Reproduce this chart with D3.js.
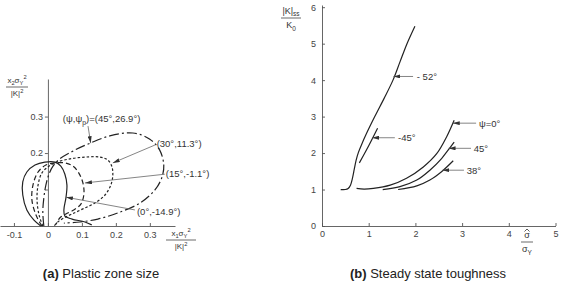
<!DOCTYPE html>
<html>
<head>
<meta charset="utf-8">
<script src="https://cdn.jsdelivr.net/npm/d3@7"></script>
<style>
  body { margin: 0; background: #fff; }
  svg text { font-family: "Liberation Sans", Arial, sans-serif; fill: #333; }
  .tick text { font-size: 9px; fill: #444; }
  .domain, .tick line { stroke: #555; stroke-width: 0.9; }
  .zone, .curve { fill: none; stroke: #222; stroke-width: 1.2; }
  .leader { stroke: #666; stroke-width: 0.8; fill: none; }
  .note { font-size: 9.5px; }
  .caption { font-size: 13px; fill: #222; }
</style>
</head>
<body>
<svg id="fig" width="563" height="284"></svg>
<script>
// ---- (a) plastic zone size: zone outlines, [x1 s^2/K^2, x2 s^2/K^2]
var zone0 = [[-0.021,0],[-0.041,0.016],[-0.062,0.044],[-0.074,0.085],[-0.074,0.121],[-0.062,0.148],
  [-0.038,0.167],[-0.009,0.175],[0.021,0.175],[0.038,0.164],[0.05,0.142],[0.056,0.112],[0.053,0.077],
  [0.047,0.044],[0.05,0.027],[0.071,0.019],[0.109,0.011],[0.129,0.003]];
var zone15 = [[-0.018,0],[-0.035,0.03],[-0.047,0.071],[-0.044,0.112],[-0.029,0.148],[-0.006,0.167],
  [0.021,0.173],[0.05,0.173],[0.074,0.164],[0.091,0.145],[0.103,0.118],[0.106,0.088],[0.097,0.06],
  [0.076,0.044],[0.053,0.033],[0.035,0.022],[0.024,0.005]];
var zone30 = [[-0.015,0],[-0.026,0.03],[-0.032,0.071],[-0.029,0.112],[-0.018,0.145],[0.003,0.164],
  [0.026,0.175],[0.065,0.184],[0.112,0.189],[0.153,0.189],[0.176,0.181],[0.188,0.164],[0.191,0.14],
  [0.185,0.112],[0.168,0.085],[0.138,0.063],[0.103,0.047],[0.071,0.033],[0.047,0.022],[0.029,0.011],[0.018,0]];
var zone45 = [[-0.012,0],[-0.015,0.038],[-0.012,0.077],[-0.006,0.112],[0.003,0.142],[0.015,0.164],
  [0.035,0.184],[0.079,0.208],[0.124,0.227],[0.182,0.247],[0.25,0.255],[0.3,0.238],[0.329,0.208],
  [0.341,0.167],[0.335,0.132],[0.315,0.099],[0.271,0.063],[0.206,0.036],[0.147,0.019],[0.094,0.011],[0.047,0.008]];
var zoneTicksX = [-0.1, 0, 0.1, 0.2, 0.3];
var zoneTicksY = [0.1, 0.2, 0.3];

// ---- (b) steady state toughness, [sigma_hat/sigma_Y, |K|ss/K0]
var tough52 = [[0.4,1.0],[0.5,1.0],[0.56,1.03],[0.61,1.12],[0.65,1.3],[0.69,1.55],[0.73,1.8],[0.78,2.02],
  [0.86,2.27],[0.94,2.5],[1.13,3.0],[1.33,3.5],[1.52,4.0],[1.67,4.5],[1.82,5.0],[1.99,5.48]];
var tough45n = [[0.8,1.73],[1.0,2.2],[1.19,2.68]];
var tough0 = [[0.74,1.03],[0.9,1.01],[1.1,1.03],[1.46,1.12],[1.81,1.31],[2.17,1.62],[2.46,1.99],[2.67,2.45],[2.83,2.9]];
var tough45 = [[1.3,1.0],[1.67,1.08],[2.03,1.26],[2.31,1.53],[2.56,1.85],[2.73,2.13],[2.83,2.3]];
var tough38 = [[1.63,1.0],[2.03,1.1],[2.31,1.26],[2.56,1.49],[2.81,1.79]];
var toughTicksX = [0, 1, 2, 3, 4, 5];
var toughTicksY = [0, 1, 2, 3, 4, 5, 6];

// annotations: anchor on curve, leader start, label start (data units)
var zoneNotes = [
  { parts: [["(ψ,ψ"], ["p", "sub"], [")=(45°,26.9°)"]], at: [0.126, 0.227], from: [0.118, 0.274], label: [0.044, 0.284] },
  { parts: [["(30°,11.3°)"]], at: [0.191, 0.173], from: [0.315, 0.222], label: [0.32, 0.216] },
  { parts: [["(15°,-1.1°)"]], at: [0.109, 0.118], from: [0.344, 0.142], label: [0.347, 0.133] },
  { parts: [["(0°,-14.9°)"]], at: [0.053, 0.079], from: [0.256, 0.044], label: [0.262, 0.029] }
];
var toughNotes = [
  { parts: [["- 52°"]], at: [1.53, 4.1], from: [1.95, 4.1], label: [2.03, 4.0] },
  { parts: [["-45°"]], at: [1.07, 2.42], from: [1.56, 2.42], label: [1.63, 2.32] },
  { parts: [["ψ=0°"]], at: [2.8, 2.82], from: [3.3, 2.82], label: [3.36, 2.72] },
  { parts: [["45°"]], at: [2.71, 2.13], from: [3.19, 2.13], label: [3.25, 2.03] },
  { parts: [["38°"]], at: [2.58, 1.53], from: [3.04, 1.53], label: [3.1, 1.43] }
];

var svg = d3.select("#fig");

svg.append("defs").append("marker")
  .attr("id", "arr")
  .attr("viewBox", "0 0 7 4")
  .attr("refX", 7).attr("refY", 2)
  .attr("markerUnits", "userSpaceOnUse")
  .attr("markerWidth", 7).attr("markerHeight", 4)
  .attr("orient", "auto")
  .append("path").attr("d", "M0,0L7,2L0,4Z").attr("fill", "#333");

// text with sub/superscripts; parts = [text, "sub"|"sup"]
function rich(t, parts, size) {
  var cur = 0;
  parts.forEach(function (p) {
    var off = p[1] === "sub" ? 0.3 : p[1] === "sup" ? -0.4 : 0;
    t.append("tspan")
      .attr("dy", ((off - cur) * size).toFixed(2))
      .style("font-size", (off ? size * 0.72 : size) + "px")
      .text(p[0]);
    cur = off;
  });
  return t;
}

function frac(g, cx, y, w, num, den, size) {
  rich(g.append("text").attr("x", cx).attr("y", y - 4.5).attr("text-anchor", "middle"), num, size);
  g.append("line").attr("x1", cx - w / 2).attr("x2", cx + w / 2)
    .attr("y1", y).attr("y2", y).attr("stroke", "#444").attr("stroke-width", 0.8);
  rich(g.append("text").attr("x", cx).attr("y", y + size * 1.15).attr("text-anchor", "middle"), den, size);
}

function notes(g, list, xs, ys) {
  list.forEach(function (n) {
    g.append("line").attr("class", "leader")
      .attr("x1", xs(n.from[0])).attr("y1", ys(n.from[1]))
      .attr("x2", xs(n.at[0])).attr("y2", ys(n.at[1]))
      .attr("marker-end", "url(#arr)");
    rich(g.append("text").attr("class", "note")
      .attr("x", xs(n.label[0])).attr("y", ys(n.label[1])), n.parts, 9.5);
  });
}

// ================= (a) =================
var xA = d3.scaleLinear().domain([-0.141, 0.374]).range([0, 175]);
var yA = d3.scaleLinear().domain([0, 0.403]).range([226, 79]);
var ga = svg.append("g");

ga.append("g")
  .attr("transform", "translate(0," + yA(0) + ")")
  .call(d3.axisBottom(xA).tickValues(zoneTicksX).tickSize(-3).tickSizeOuter(0).tickPadding(6)
    .tickFormat(function (d) { return d === 0 ? "0" : d.toFixed(1); }));

ga.append("g")
  .attr("transform", "translate(" + xA(0) + ",0)")
  .call(d3.axisLeft(yA).tickValues(zoneTicksY).tickSize(3).tickSizeOuter(0).tickPadding(2)
    .tickFormat(function (d) { return d === 0.1 ? "" : d.toFixed(1); }));

var zoneLine = d3.line()
  .x(function (d) { return xA(d[0]); })
  .y(function (d) { return yA(d[1]); })
  .curve(d3.curveCatmullRom.alpha(0.5));

[[zone0, null], [zone15, "5,3"], [zone30, "2.5,2"], [zone45, "10,3,2,3"]].forEach(function (z) {
  ga.append("path").attr("class", "zone")
    .attr("d", zoneLine(z[0]))
    .attr("stroke-dasharray", z[1]);
});

notes(ga, zoneNotes, xA, yA);

frac(ga, 17, 87, 22, [["x"], ["2", "sub"], ["σ"], ["Y", "sub"], ["2", "sup"]], [["|K|"], ["2", "sup"]], 8);
frac(ga, 181, 240, 30, [["x"], ["1", "sub"], ["σ"], ["Y", "sub"], ["2", "sup"]], [["|K|"], ["2", "sup"]], 8);

// ================= (b) =================
var xB = d3.scaleLinear().domain([0, 5]).range([322, 555.5]);
var yB = d3.scaleLinear().domain([0, 6.06]).range([226, 5]);
var gb = svg.append("g");

gb.append("g")
  .attr("transform", "translate(0," + yB(0) + ")")
  .call(d3.axisBottom(xB).tickValues(toughTicksX).tickSize(-3).tickSizeOuter(0).tickPadding(5)
    .tickFormat(d3.format("d")));

gb.append("g")
  .attr("transform", "translate(" + xB(0) + ",0)")
  .call(d3.axisLeft(yB).tickValues(toughTicksY).tickSize(-3).tickSizeOuter(0).tickPadding(6)
    .tickFormat(d3.format("d")));

var toughLine = d3.line()
  .x(function (d) { return xB(d[0]); })
  .y(function (d) { return yB(d[1]); })
  .curve(d3.curveCatmullRom.alpha(0.5));

[tough52, tough45n, tough0, tough45, tough38].forEach(function (c) {
  gb.append("path").attr("class", "curve").attr("d", toughLine(c));
});

notes(gb, toughNotes, xB, yB);

frac(gb, 291, 18, 20, [["|K|"], ["ss", "sub"]], [["K"], ["0", "sub"]], 9);
frac(gb, 527, 242, 12, [["σ"]], [["σ"], ["Y", "sub"]], 9);
// hat over the sigma
gb.append("path").attr("d", "M524.5,231.5L527,229L529.5,231.5")
  .attr("fill", "none").attr("stroke", "#333").attr("stroke-width", 0.8);

// captions
svg.append("text").attr("class", "caption").attr("x", 101).attr("y", 278).attr("text-anchor", "middle")
  .call(function (t) {
    t.append("tspan").style("font-weight", "bold").text("(a)");
    t.append("tspan").text(" Plastic zone size");
  });
svg.append("text").attr("class", "caption").attr("x", 428).attr("y", 278).attr("text-anchor", "middle")
  .call(function (t) {
    t.append("tspan").style("font-weight", "bold").text("(b)");
    t.append("tspan").text(" Steady state toughness");
  });
</script>
</body>
</html>
